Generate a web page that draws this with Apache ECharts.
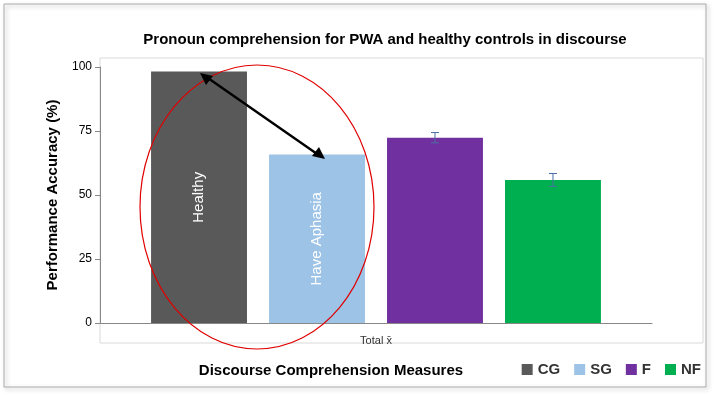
<!DOCTYPE html>
<html><head><meta charset="utf-8">
<script src="https://cdn.jsdelivr.net/npm/echarts@6/dist/echarts.min.js"></script>
<style>html,body{margin:0;padding:0;background:#fff}#c{width:720px;height:402px}</style>
</head><body><div id="c"></div>
<script>
const categories = ['Total x\u0304'];
const seriesNames = ['CG', 'SG', 'F', 'NF'];
const values = [98.2, 65.8, 72.4, 55.9];
const errors = [0, 0, 2.0, 2.5];
const barLabels = ['Healthy', 'Have Aphasia', '', ''];
const colors = ['#595959', '#9dc3e6', '#7030a0', '#00b050'];
const yTicks = [0, 25, 50, 75, 100];

const chart = echarts.init(document.getElementById('c'));
const barSeries = seriesNames.map((n, i) => ({
  name: n, type: 'bar', data: [values[i]],
  itemStyle: { color: colors[i] },
  barGap: '23%', barCategoryGap: '18.5%',
  label: { show: !!barLabels[i], position: 'inside', rotate: 90, formatter: barLabels[i],
    color: '#fff', fontSize: 15, fontFamily: 'Liberation Sans' }
}));
const errSeries = {
  type: 'custom', silent: true, z: 5,
  data: seriesNames.map((n, i) => [0, values[i], errors[i], i]),
  renderItem: function (params, api) {
    const e = api.value(2); if (!e) return;
    const idx = api.value(3);
    const c = api.coord([0, api.value(1)]);
    const cw = api.size([1, 0])[0];
    const inner = cw * 0.815;
    const bw = inner / (4 + 3 * 0.23);
    const x = c[0] - inner / 2 + idx * bw * 1.23 + bw / 2;
    const hi = api.coord([0, api.value(1) + e])[1];
    const lo = api.coord([0, api.value(1) - e])[1];
    const st = { stroke: '#4a6fa5', lineWidth: 1 };
    return { type: 'group', children: [
      { type: 'line', shape: { x1: x, y1: hi, x2: x, y2: lo }, style: st },
      { type: 'line', shape: { x1: x - 4, y1: hi, x2: x + 4, y2: hi }, style: st },
      { type: 'line', shape: { x1: x - 4, y1: lo, x2: x + 4, y2: lo }, style: st }
    ]};
  }
};
chart.setOption({
  animation: false,
  textStyle: { fontFamily: 'Liberation Sans' },
  title: { text: 'Pronoun comprehension for PWA and healthy controls in discourse', left: 380, top: 27, textAlign: 'center',
    textStyle: { fontSize: 15, fontWeight: 'bold', color: '#000' } },
  legend: { data: seriesNames, right: 14, bottom: 20, itemWidth: 11, itemHeight: 11, itemGap: 14, icon: 'rect',
    textStyle: { fontSize: 15, fontWeight: 'bold', color: '#333' } },
  grid: { left: 100, right: 68, top: 67, bottom: 79 },
  xAxis: { type: 'category', data: categories,
    name: 'Discourse Comprehension Measures', nameLocation: 'middle', nameGap: 40,
    nameTextStyle: { fontSize: 15, fontWeight: 'bold', color: '#000', padding: [0, 90, 0, 0] },
    axisLine: { lineStyle: { color: '#888' } }, axisTick: { show: false },
    axisLabel: { fontSize: 11, color: '#333', margin: 12 } },
  yAxis: { type: 'value', min: 0, max: 100, interval: 25,
    name: 'Performance Accuracy (%)', nameLocation: 'middle', nameGap: 40,
    nameTextStyle: { fontSize: 15, fontWeight: 'bold', color: '#000' },
    axisLine: { show: true, lineStyle: { color: '#888' } }, axisTick: { show: true },
    axisLabel: { fontSize: 12, color: '#000', formatter: v => yTicks.includes(v) ? v : '' },
    splitLine: { show: false } },
  graphic: [
    { type: 'rect', shape: { x: 4, y: 4, width: 702, height: 383 }, style: { fill: 'none', stroke: '#aaa', lineWidth: 1, shadowBlur: 4, shadowColor: 'rgba(0,0,0,0.3)', shadowOffsetX: 2, shadowOffsetY: 2 }, z: -10 },
    { type: 'rect', shape: { x: 100, y: 58, width: 603, height: 285 }, style: { fill: 'none', stroke: '#d9d9d9', lineWidth: 1 }, z: -5 },
    { type: 'ellipse', shape: { cx: 257, cy: 207, rx: 117, ry: 142 }, style: { fill: 'none', stroke: '#e00000', lineWidth: 1.2 }, z: 20 },
    { type: 'line', shape: { x1: 205, y1: 76, x2: 320, y2: 156 }, style: { stroke: '#000', lineWidth: 2.5 }, z: 20 },
    { type: 'polygon', shape: { points: [[200, 73], [213, 76], [206, 85]] }, style: { fill: '#000' }, z: 20 },
    { type: 'polygon', shape: { points: [[325, 159], [312, 156], [319, 147]] }, style: { fill: '#000' }, z: 20 }
  ],
  series: [...barSeries, errSeries]
});
</script></body></html>
